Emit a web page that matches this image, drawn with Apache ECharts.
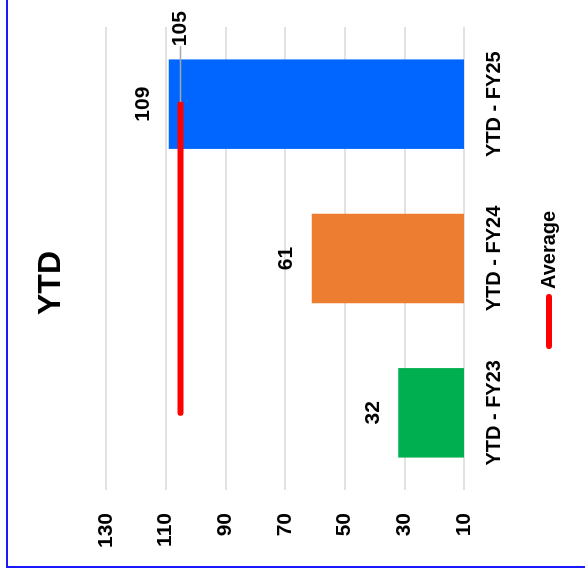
<!DOCTYPE html>
<html>
<head>
<meta charset="utf-8">
<script src="https://cdn.jsdelivr.net/npm/echarts@6/dist/echarts.min.js"></script>
<style>
  html, body { margin: 0; padding: 0; background: #fff; overflow: hidden; }
  #stage { position: absolute; left: 0; top: 0; width: 585px; height: 577px; overflow: hidden; }
  /* The column chart is laid out upright and then turned a quarter turn counter-clockwise */
  #chart {
    position: absolute; left: 0; top: 0;
    width: 577px; height: 585px;
    transform-origin: 0 0;
    transform: translate(0, 577px) rotate(-90deg);
  }
</style>
</head>
<body>
<div id="stage"><div id="chart"></div></div>
<script>
// YTD totals per fiscal year
const categories = ['YTD - FY23', 'YTD - FY24', 'YTD - FY25'];
const ytdValues = [32, 61, 109];
const averageValues = [105, 105, 105];
const barColors = ['#00B050', '#ED7D31', '#0066FF'];

// Value axis scale
const axisMin = 10;
const axisMax = 130;
const axisStep = 20;

const FONT = '"Liberation Sans", Arial, sans-serif';

const chart = echarts.init(document.getElementById('chart'), null, { renderer: 'canvas' });

const lastIndex = categories.length - 1;

chart.setOption({
  animation: false,
  backgroundColor: '#ffffff',
  textStyle: { fontFamily: FONT },
  title: {
    text: 'YTD',
    left: 257,
    top: 30,
    textStyle: { fontSize: 32, fontWeight: 'bold', color: '#000', fontFamily: FONT }
  },
  legend: {
    data: ['Average'],
    left: 223,
    top: 534,
    icon: 'path://M3,0 L52,0 A3,3 0 0 1 52,6 L3,6 A3,3 0 0 1 3,0 Z',
    itemWidth: 55,
    itemHeight: 6,
    itemGap: 5,
    textStyle: { fontSize: 20, fontWeight: 'bold', color: '#000', fontFamily: FONT }
  },
  grid: { left: 87, right: 27, top: 106, bottom: 121, containLabel: false },
  xAxis: {
    type: 'category',
    data: categories,
    axisLine: { show: false },
    axisTick: { show: false },
    axisLabel: { fontSize: 20, fontWeight: 'bold', color: '#000', margin: 20, fontFamily: FONT }
  },
  yAxis: {
    type: 'value',
    min: axisMin,
    max: axisMax,
    interval: axisStep,
    axisLine: { show: false },
    axisTick: { show: false },
    axisLabel: { fontSize: 21, fontWeight: 'bold', color: '#000', margin: 23, fontFamily: FONT },
    splitLine: { show: true, lineStyle: { color: '#d9d9d9', width: 1.5 } }
  },
  graphic: [{
    type: 'rect',
    silent: true,
    z: 100,
    shape: { x: 10, y: 7, width: 900, height: 900 },
    style: { fill: 'none', stroke: '#1a1aff', lineWidth: 2 }
  }],
  series: [
    {
      name: 'YTD',
      type: 'bar',
      barCategoryGap: '42%',
      data: ytdValues.map((v, i) => ({ value: v, itemStyle: { color: barColors[i] } })),
      label: {
        show: true,
        position: 'top',
        distance: 15,
        fontSize: 21,
        fontWeight: 'bold',
        color: '#000',
        fontFamily: FONT
      },
      z: 2
    },
    {
      name: 'Average',
      type: 'line',
      data: averageValues.map((v, i) => i === lastIndex
        ? { value: v, label: { show: true } }
        : v),
      symbol: 'circle',
      symbolSize: 4,
      itemStyle: { color: '#FF0000' },
      lineStyle: { color: '#FF0000', width: 6, cap: 'round' },
      label: {
        show: false,
        position: 'right',
        distance: 6,
        padding: [0, 0, 0, 10],
        fontSize: 21,
        fontWeight: 'bold',
        color: '#000',
        fontFamily: FONT
      },
      labelLayout: { dx: 40 },
      labelLine: { show: true, lineStyle: { color: '#A6A6A6', width: 1.5 } },
      z: 3
    }
  ]
});
</script>
</body>
</html>
